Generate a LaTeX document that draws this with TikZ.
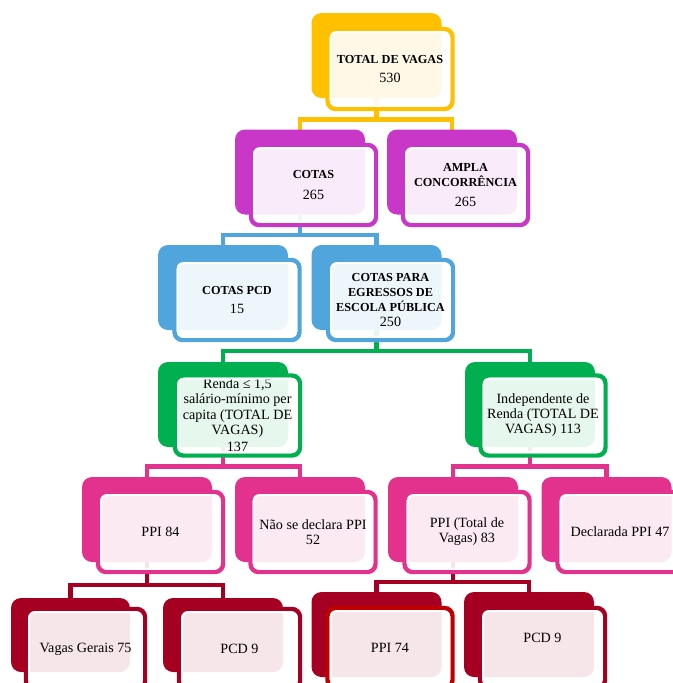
\documentclass[tikz,border=0pt]{standalone}
\usepackage{fontspec}
\setmainfont{Liberation Serif}
\usetikzlibrary{calc,backgrounds}
\definecolor{cyel}{HTML}{FFC000}
\definecolor{cmag}{HTML}{C837C8}
\definecolor{cblu}{HTML}{50A5DC}
\definecolor{cgrn}{HTML}{00B050}
\definecolor{cpnk}{HTML}{E3318E}
\definecolor{cred}{HTML}{A50021}
\definecolor{credb}{HTML}{C00000}
\newcommand{\hdtxt}[1]{\textbf{\fontsize{9.2}{11}\selectfont #1}}
\begin{document}
\begin{tikzpicture}[x=.75pt, y=-.75pt,
  back/.style={fill=#1, rounded corners=7.5pt, inner sep=0pt, outer sep=0pt,
    minimum width=97.5pt, minimum height=63.75pt},
  front/.style={draw=#1, line width=3.3pt, fill=white, fill opacity=.9, text opacity=1,
    rounded corners=6pt, inner sep=0pt, outer sep=0pt, minimum width=93.75pt,
    minimum height=60pt, align=center, font=\fontsize{10.6}{11.3}\selectfont},
  ring/.style={white, line width=1.5pt, rounded corners=4.5pt},
  conn/.style={#1, line width=3.4pt}]
\useasboundingbox (0,0) rectangle (673,683);
\node[back=cyel] (total) at (376.5,55.5) {};
\node[front=cyel] (total-f) at (390,69) {\hdtxt{TOTAL DE VAGAS}\\[3pt]530};
\node[back=cmag] (cotas) at (300,172) {};
\node[front=cmag] (cotas-f) at (313.5,185) {\hdtxt{COTAS}\\[4pt]265};
\node[back=cmag] (ampla) at (452,172) {};
\node[front=cmag] (ampla-f) at (465.5,185) {\hdtxt{AMPLA}\\\hdtxt{CONCORRÊNCIA}\\[3pt]265};
\node[back=cblu] (pcd) at (223,287.5) {};
\node[front=cblu] (pcd-f) at (237,300) {\hdtxt{COTAS PCD}\\[3pt]15};
\node[back=cblu] (egressos) at (376.5,287.5) {};
\node[front=cblu] (egressos-f) at (390.5,300) {\hdtxt{COTAS PARA}\\\hdtxt{EGRESSOS DE}\\\hdtxt{ESCOLA PÚBLICA}\\250};
\node[back=cgrn] (renda) at (223,404.5) {};
\node[front=cgrn] (renda-f) at (237.5,415.5) {Renda ≤ 1,5\\salário-mínimo per\\capita (TOTAL DE\\VAGAS)\\[2pt]137};
\node[back=cgrn] (indep) at (530,404.5) {};
\node[front=cgrn] (indep-f) at (543,415.5) {Independente de\\Renda (TOTAL DE\\VAGAS) 113};
\node[back=cpnk] (ppiA) at (147,519.5) {};
\node[front=cpnk] (ppiA-f) at (160.5,532) {PPI 84};
\node[back=cpnk] (naoppi) at (300,519.5) {};
\node[front=cpnk] (naoppi-f) at (313,532) {Não se declara PPI\\52};
\node[back=cpnk] (ppiB) at (453,519.5) {};
\node[front=cpnk] (ppiB-f) at (467,532) {PPI (Total de\\Vagas) 83};
\node[back=cpnk] (declppi) at (606.5,519.5) {};
\node[front=cpnk] (declppi-f) at (620,532) {Declarada PPI 47};
\node[back=cred, minimum width=89.25pt, minimum height=55.5pt] (gerais) at (70.5,635) {};
\node[front=cred, minimum width=89.25pt] (gerais-f) at (85.5,649) {Vagas Gerais 75};
\node[back=cred, minimum width=90pt, minimum height=55.5pt] (pcdA) at (223,635) {};
\node[front=cred, minimum width=90.75pt] (pcdA-f) at (239.5,649) {PCD 9};
\node[back=cred] (ppiC) at (376.5,634.5) {};
\node[front=credb] (ppiC-f) at (390,648) {PPI 74};
\node[back=cred] (pcdB) at (529,634.5) {};
\node[front=cred, text depth=15pt] (pcdB-f) at (542.5,648) {PCD 9};
\foreach \n in {total,cotas,ampla,pcd,egressos,renda,indep,ppiA,naoppi,ppiB,declppi,gerais,pcdA,ppiC,pcdB}
{
    \draw[ring] ([shift={(2.4pt,-2.4pt)}]\n-f.north west) rectangle ([shift={(-2.4pt,2.4pt)}]\n-f.south east);
}
\begin{pgfonlayer}{background}
\foreach \p/\a/\b/\c in {total/cotas/ampla/cyel, cotas/pcd/egressos/cblu, egressos/renda/indep/cgrn,
    renda/ppiA/naoppi/cpnk, indep/ppiB/declppi/cpnk, ppiA/gerais/pcdA/cred, ppiB/ppiC/pcdB/cred}
{
    \coordinate (m) at ($(\p-f.south)!.5!(\a.north)$);
    \draw[conn=\c] (\p.south) -- (\p.south |- m);
    \draw[conn=\c] (\a.north) |- (\p.south |- m) -| (\b.north);
}
\end{pgfonlayer}
\end{tikzpicture}
\end{document}
